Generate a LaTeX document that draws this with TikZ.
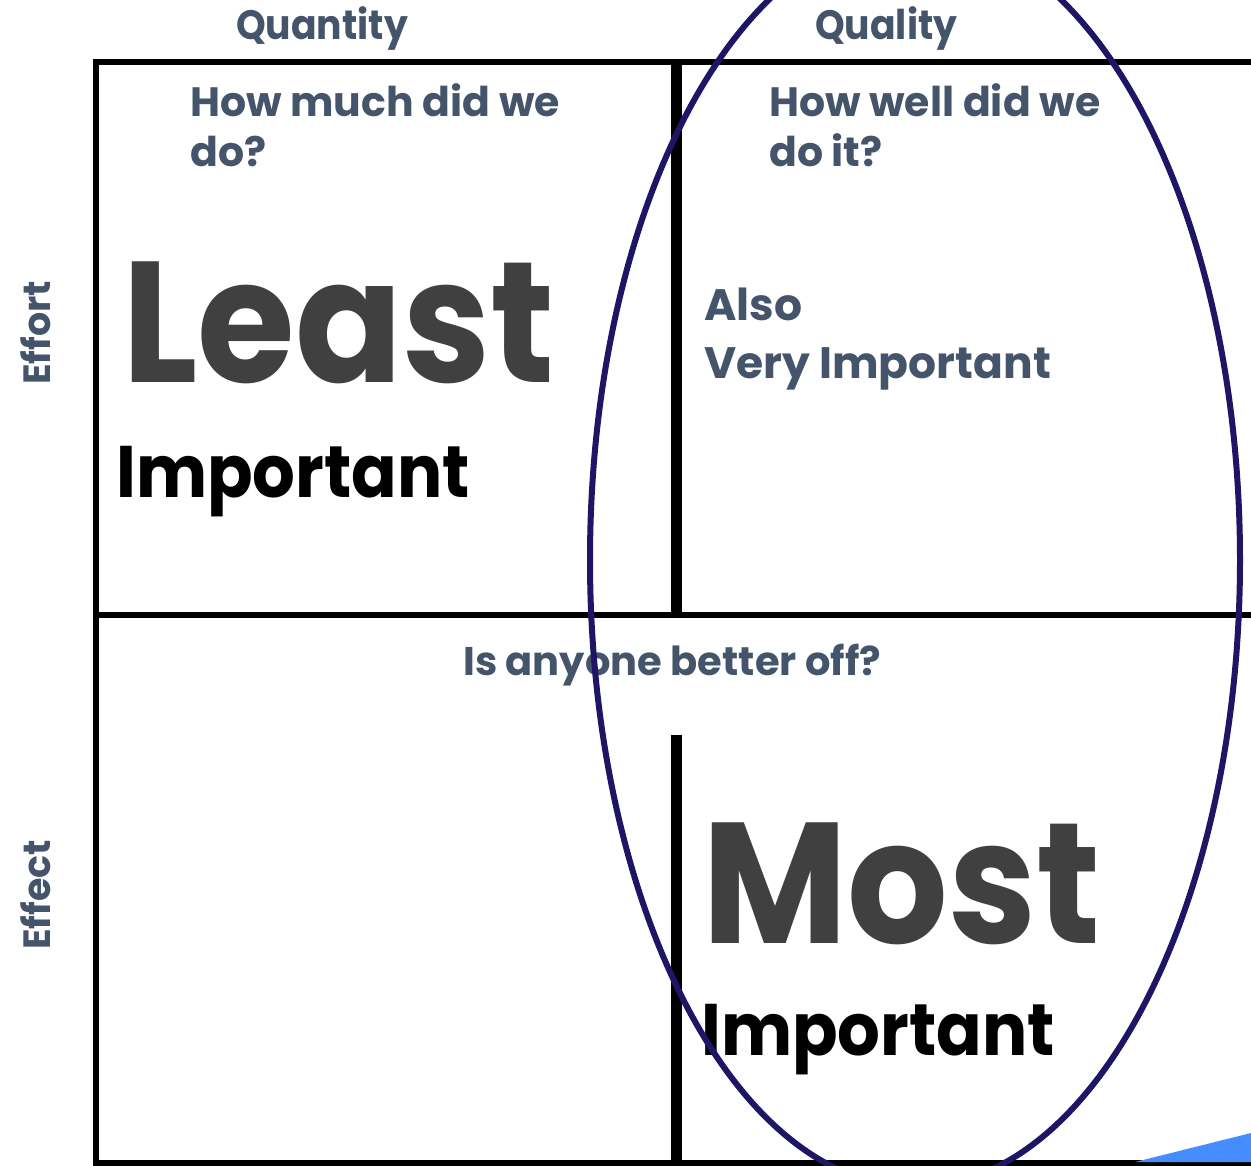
\documentclass[tikz,border=0pt]{standalone}
\usepackage{fontspec}
\usetikzlibrary{shapes.geometric}
\setmainfont{Poppins}
\newfontfamily\narrowfont{Poppins}[FakeStretch=0.92]
\definecolor{slate}{RGB}{68,84,106}
\definecolor{darkgrey}{RGB}{64,64,64}
\definecolor{ringblue}{RGB}{30,22,100}
\definecolor{skyblue}{RGB}{69,140,255}
\begin{document}
\begin{tikzpicture}[x=1pt,y=-1pt,
  gridline/.style={line width=6pt,black},
  divider/.style={line width=11pt,black},
  heading/.style={inner sep=0pt,anchor=base west,text=slate,font=\narrowfont\bfseries\fontsize{41}{48}\selectfont},
  question/.style={inner sep=0pt,anchor=base west,text=slate,align=left,font=\bfseries\fontsize{41}{50}\selectfont},
  bigword/.style={inner sep=0pt,anchor=base west,text=darkgrey,font=\narrowfont\bfseries\fontsize{172}{172}\selectfont},
  subword/.style={inner sep=0pt,anchor=base west,text=black,font=\narrowfont\bfseries\fontsize{73}{73}\selectfont},
  sidelabel/.style={inner sep=0pt,anchor=base,rotate=90,text=slate,font=\bfseries\fontsize{38}{38}\selectfont}]
\useasboundingbox (0,0) rectangle (1251,1166);

% grid
\coordinate (tl) at (93,62);
\coordinate (tr) at (1251,62);
\coordinate (ml) at (96,615);
\coordinate (mr) at (1251,615);
\coordinate (bl) at (93,1163);
\coordinate (br) at (1251,1163);
\coordinate (lt) at (96,62);
\coordinate (lb) at (96,1166);
\coordinate (ct) at (676,62);
\coordinate (cm) at (676,615);
\coordinate (cbt) at (676,735);
\coordinate (cbb) at (676,1166);
\draw[gridline] (tl) -- (tr);
\draw[gridline] (ml) -- (mr);
\draw[gridline] (bl) -- (br);
\draw[gridline] (lt) -- (lb);
\draw[divider] (ct) -- (cm);
\draw[divider] (cbt) -- (cbb);

% corner wedge
\fill[skyblue] (1135,1162) -- (1251,1133) -- (1251,1162) -- cycle;

% texts
\node[heading] (quantity) at (236,40) {Quantity};
\node[heading] (quality) at (815,40) {Quality};
\node[question] (much) at (190,167) {How much did we\\do?};
\node[question] (well) at (769,167) {How well did we\\do it?};
\node[bigword] (least) at (122,383) {Least};
\node[subword] (imp1) at (116,497) {Important};
\node[question,font=\bfseries\fontsize{44}{58}\selectfont] (also) at (704,378) {Also\\Very Important};
\node[question,font=\bfseries\fontsize{40}{50}\selectfont] (better) at (463,675) {Is anyone better off?};
\node[bigword] (most) at (702,943) {Most};
\node[subword] (imp2) at (701,1055) {Important};
\node[sidelabel] (effort) at (50,333) {Effort};
\node[sidelabel] (effect) at (50,895) {Effect};

% ring
\node[draw=ringblue,line width=6pt,ellipse,minimum width=650pt,minimum height=1254pt,inner sep=0pt] (ring) at (915,560) {};
\end{tikzpicture}
\end{document}
